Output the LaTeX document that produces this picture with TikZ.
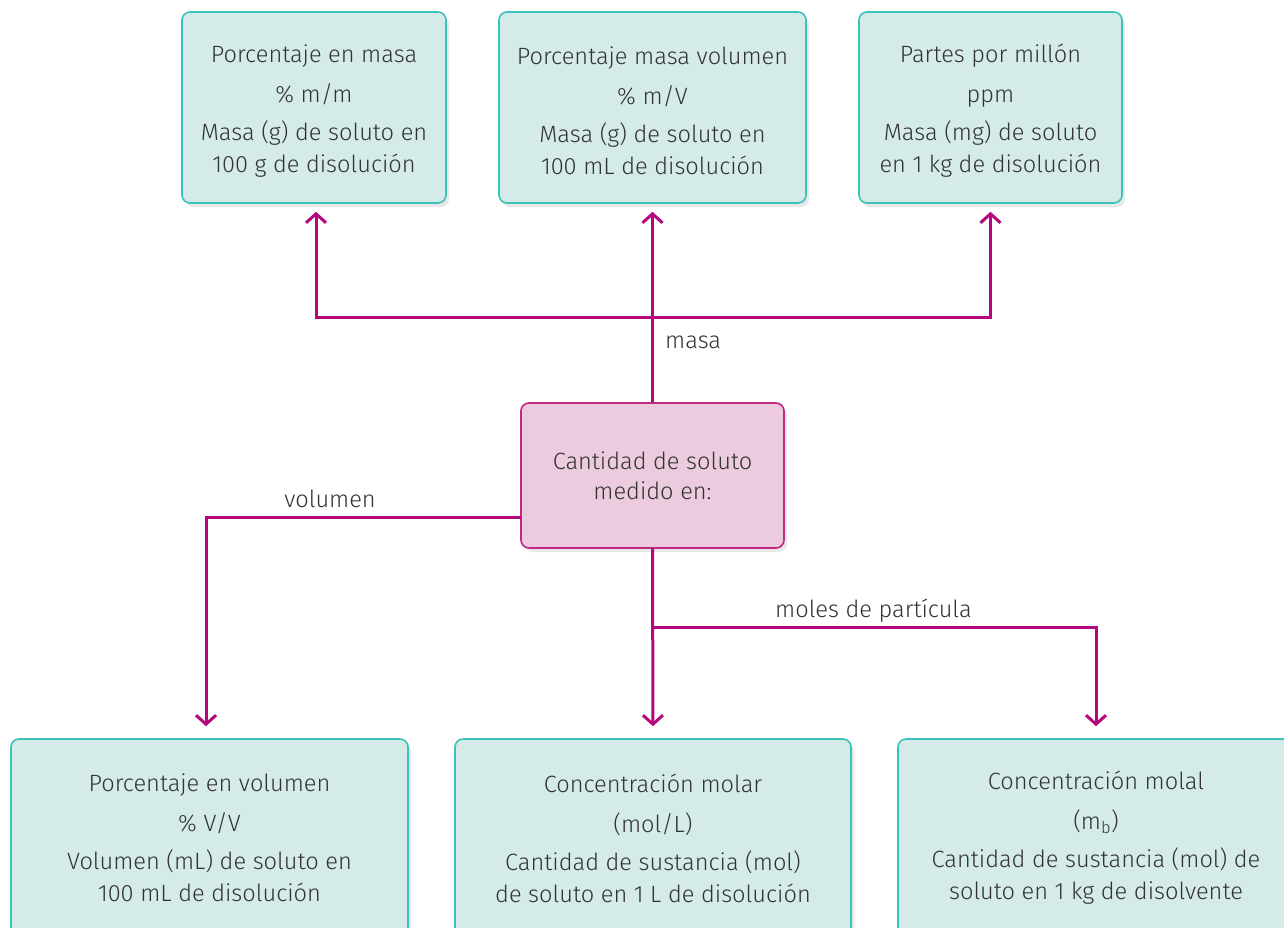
\documentclass[tikz,border=0pt]{standalone}
\usepackage{fontspec}
\setmainfont{Fira Sans}[UprightFont={* Light}]
\usetikzlibrary{arrows.meta,shadows}
\definecolor{lin}{RGB}{181,8,127}
\definecolor{tealb}{RGB}{60,195,185}
\definecolor{tealf}{RGB}{212,235,234}
\definecolor{pinkf}{RGB}{235,203,221}
\definecolor{pinkb}{RGB}{192,40,130}
\definecolor{txt}{RGB}{51,51,51}
\newcommand{\topstrut}{\rule{0pt}{24pt}}
\tikzset{
  box/.style={draw=tealb, fill=tealf, line width=1.6pt, rounded corners=8pt, align=center,
    text=txt, inner sep=0pt, font=\fontsize{23.6}{32}\selectfont,
    drop shadow={opacity=0.18, shadow xshift=3pt, shadow yshift=-4pt}},
  cbox/.style={draw=pinkb, fill=pinkf, line width=1.6pt, rounded corners=8pt, align=center,
    text=txt, inner sep=0pt, font=\fontsize{23.6}{30}\selectfont,
    minimum width=263pt, minimum height=145pt,
    drop shadow={opacity=0.18, shadow xshift=3pt, shadow yshift=-4pt}},
  conn/.style={draw=lin, line width=3pt},
  arr/.style={conn, -{Straight Barb[length=9pt,width=20pt,line width=3pt]}},
  lbl/.style={text=txt, font=\fontsize{23.6}{28}\selectfont, inner sep=0pt}
}
\begin{document}
\begin{tikzpicture}[x=1pt,y=-1pt]
\clip (0,0) rectangle (1284,927);
\fill[white] (0,0) rectangle (1284,927);
% top boxes
\node[box, minimum width=264pt, minimum height=191pt] (t1) at (314,107.5)
  {\topstrut Porcentaje en masa\\[8pt] \% m/m\\[6pt] Masa (g) de soluto en\\100 g de disolución};
\node[box, minimum width=307pt, minimum height=191pt] (t2) at (652.5,107.5)
  {\topstrut Porcentaje masa volumen\\[8pt] \% m/V\\[6pt] Masa (g) de soluto en\\100 mL de disolución};
\node[box, minimum width=263pt, minimum height=191pt] (t3) at (990.5,107.5)
  {\topstrut Partes por millón\\[8pt] ppm\\[6pt] Masa (mg) de soluto\\en 1 kg de disolución};
% center
\node[cbox] (c) at (652.5,475.5) {Cantidad de soluto\\medido en:};
% bottom boxes
\node[box, minimum width=397pt, minimum height=198pt] (b1) at (209.5,838)
  {Porcentaje en volumen\\[8pt] \% V/V\\[6pt] Volumen (mL) de soluto en\\100 mL de disolución};
\node[box, minimum width=396pt, minimum height=198pt] (b2) at (653,838)
  {Concentración molar\\[8pt] (mol/L)\\[6pt] Cantidad de sustancia (mol)\\de soluto en 1 L de disolución};
\node[box, minimum width=396pt, minimum height=198pt] (b3) at (1096,838)
  {Concentración molal\\[8pt] (m\textsubscript{b})\\[6pt] Cantidad de sustancia (mol) de\\soluto en 1 kg de disolvente};
% junctions
\coordinate (jt) at (652.5,317);
\coordinate (jl) at (521,517);
\coordinate (jb) at (652.5,627);
% connectors top
\draw[arr, shorten >=8pt] (c.north) -- (t2.south);
\draw[arr, shorten >=8pt] (jt) -| ([xshift=2pt]t1.south);
\draw[arr, shorten >=8pt] (jt) -| (t3.south);
% left
\draw[arr, shorten >=12pt] (jl) -| ([xshift=-3.5pt]b1.north);
% bottom
\draw[arr, shorten >=12pt] (c.south) -- (b2.north);
\draw[arr, shorten >=12pt] (jb) -| (b3.north);
% labels
\node[lbl, anchor=base west] (lm) at (665,348) {masa};
\node[lbl, anchor=base] (lv) at (330,507) {volumen};
\node[lbl, anchor=base west] (lp) at (775,617) {moles de partícula};
\end{tikzpicture}
\end{document}
